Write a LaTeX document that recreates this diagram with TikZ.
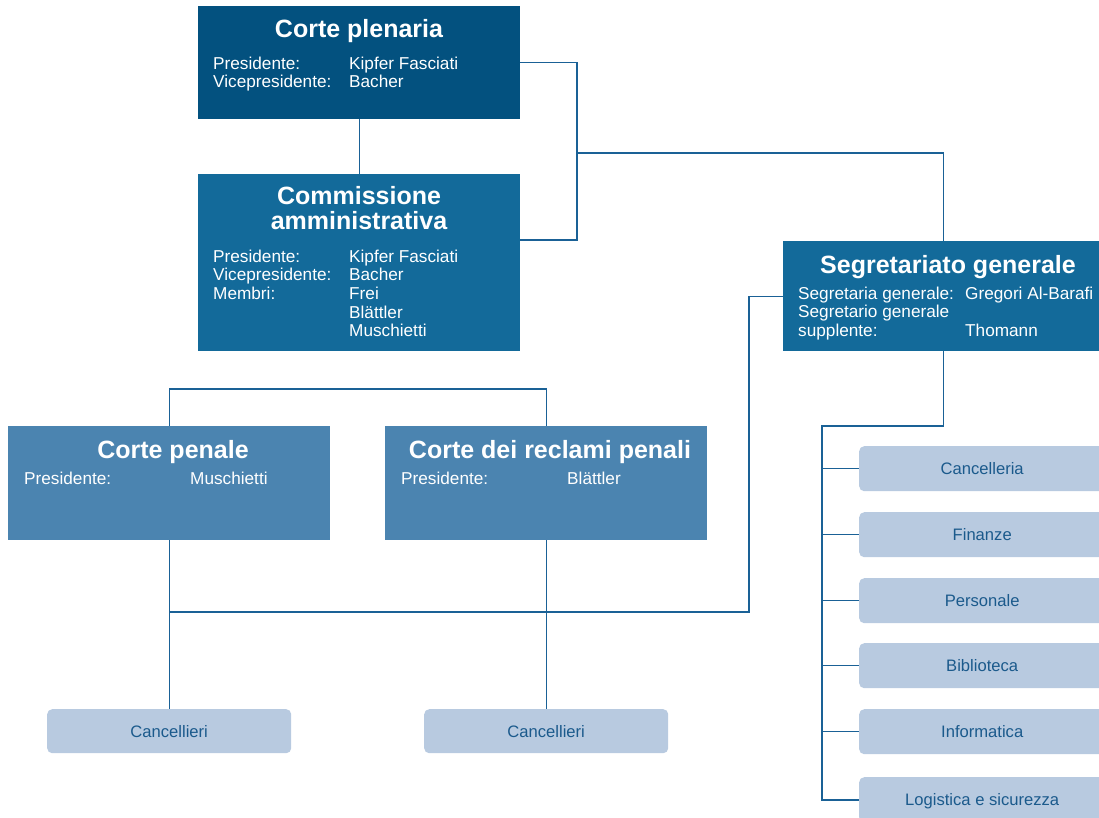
\documentclass[tikz,border=0pt]{standalone}
\usepackage{fontspec}
\setmainfont{Liberation Sans}
\definecolor{cdark}{HTML}{03517F}
\definecolor{cmid}{HTML}{136A9A}
\definecolor{clight}{HTML}{4B84B0}
\definecolor{cpale}{HTML}{B8CAE0}
\definecolor{cline}{HTML}{1A6196}
\definecolor{cpaletext}{HTML}{1B5A8C}
\tikzset{
  bigbox/.style={draw=none,rectangle,anchor=north west,inner sep=0pt,minimum width=322pt},
  palebox/.style={fill=cpale,rounded corners=5pt,anchor=north west,inner sep=0pt,
     text=cpaletext,font=\fontsize{16.6}{19}\selectfont,text height=12pt,text depth=0pt},
  ttl/.style={text=white,font=\fontsize{25}{26}\selectfont\bfseries,anchor=base,inner sep=0pt,align=center},
  row/.style={text=white,font=\fontsize{17.2}{19}\selectfont,anchor=base west,inner sep=0pt},
  conn/.style={draw=cline,line width=1.2pt},
}
\begin{document}
\begin{tikzpicture}[x=1pt,y=-1pt]
\clip (0,0) rectangle (1099,818);
\fill[white] (0,0) rectangle (1099,818);
% boxes
\node[bigbox,fill=cdark,minimum height=113pt] (plen) at (198,6) {};
\node[bigbox,fill=cmid,minimum height=177pt] (comm) at (198,174) {};
\node[bigbox,fill=cmid,minimum height=110pt,minimum width=320pt] (seg) at (783,241) {};
\node[bigbox,fill=clight,minimum height=114pt] (pen) at (8,426) {};
\node[bigbox,fill=clight,minimum height=114pt] (recl) at (385,426) {};
\node[palebox,minimum width=244pt,minimum height=44pt] (canc1) at (47,709) {Cancellieri};
\node[palebox,minimum width=244pt,minimum height=44pt] (canc2) at (424,709) {Cancellieri};
\node[palebox,minimum width=246pt,minimum height=45pt] (s1) at (859,446) {Cancelleria};
\node[palebox,minimum width=246pt,minimum height=45pt] (s2) at (859,512) {Finanze};
\node[palebox,minimum width=246pt,minimum height=45pt] (s3) at (859,578) {Personale};
\node[palebox,minimum width=246pt,minimum height=45pt] (s4) at (859,643) {Biblioteca};
\node[palebox,minimum width=246pt,minimum height=45pt] (s5) at (859,709) {Informatica};
\node[palebox,minimum width=246pt,minimum height=45pt] (s6) at (859,777) {Logistica e sicurezza};
% texts: Corte plenaria
\node[ttl] (t1) at (359,37.5) {Corte plenaria};
\node[row] (p1a) at (213,70) {Presidente:};
\node[row] (p1b) at (349,70) {Kipfer Fasciati};
\node[row] (p2a) at (213,88) {Vicepresidente:};
\node[row] (p2b) at (349,88) {Bacher};
% Commissione
\node[ttl] (t2a) at (359,205) {Commissione};
\node[ttl] (t2b) at (359,229.5) {amministrativa};
\node[row] (c1a) at (213,262) {Presidente:};
\node[row] (c1b) at (349,262) {Kipfer Fasciati};
\node[row] (c2a) at (213,280.7) {Vicepresidente:};
\node[row] (c2b) at (349,280.7) {Bacher};
\node[row] (c3a) at (213,299.4) {Membri:};
\node[row] (c3b) at (349,299.4) {Frei};
\node[row] (c4b) at (349,318.1) {Blättler};
\node[row] (c5b) at (349,336.8) {Muschietti};
% Segretariato
\node[ttl] (t3) at (948,273) {Segretariato generale};
\node[row] (g1a) at (798,299) {Segretaria generale:};
\node[row] (g1b) at (965,299) {Gregori Al-Barafi};
\node[row] (g2a) at (798,317.7) {Segretario generale};
\node[row] (g3a) at (798,336.4) {supplente:};
\node[row] (g3b) at (965,336.4) {Thomann};
% Corte penale
\node[ttl] (t4) at (173,458) {Corte penale};
\node[row] (n1a) at (24,484) {Presidente:};
\node[row] (n1b) at (190,484) {Muschietti};
% Reclami
\node[ttl] (t5) at (550,458) {Corte dei reclami penali};
\node[row] (r1a) at (401,484) {Presidente:};
\node[row] (r1b) at (567,484) {Blättler};
% junction coordinates
\coordinate (j1) at (577,240);
\coordinate (j2) at (577,153);
\coordinate (j3) at (749,612);
\coordinate (j4) at (170,612);
\coordinate (j5) at (822,426);
\coordinate (j6) at (822,800);
% connectors
\draw[conn] (plen.south) -- (comm.north);
\draw[conn] (plen.east) -| (j1) -- (j1 -| comm.east);
\draw[conn] (j2) -| (seg.north);
\draw[conn] (seg.west) -| (j3) -- (j4);
\draw[conn] (pen.north) -- ++(0,-37) -| (recl.north);
\draw[conn] (pen.south) -- (canc1.north);
\draw[conn] (recl.south) -- (canc2.north);
\draw[conn] (seg.south) |- (j5) -- (j6) -- (j6 -| s6.west);
\foreach \b in {s1,s2,s3,s4,s5}{\draw[conn] (j5 |- \b.west) -- (\b.west);}
\end{tikzpicture}
\end{document}
